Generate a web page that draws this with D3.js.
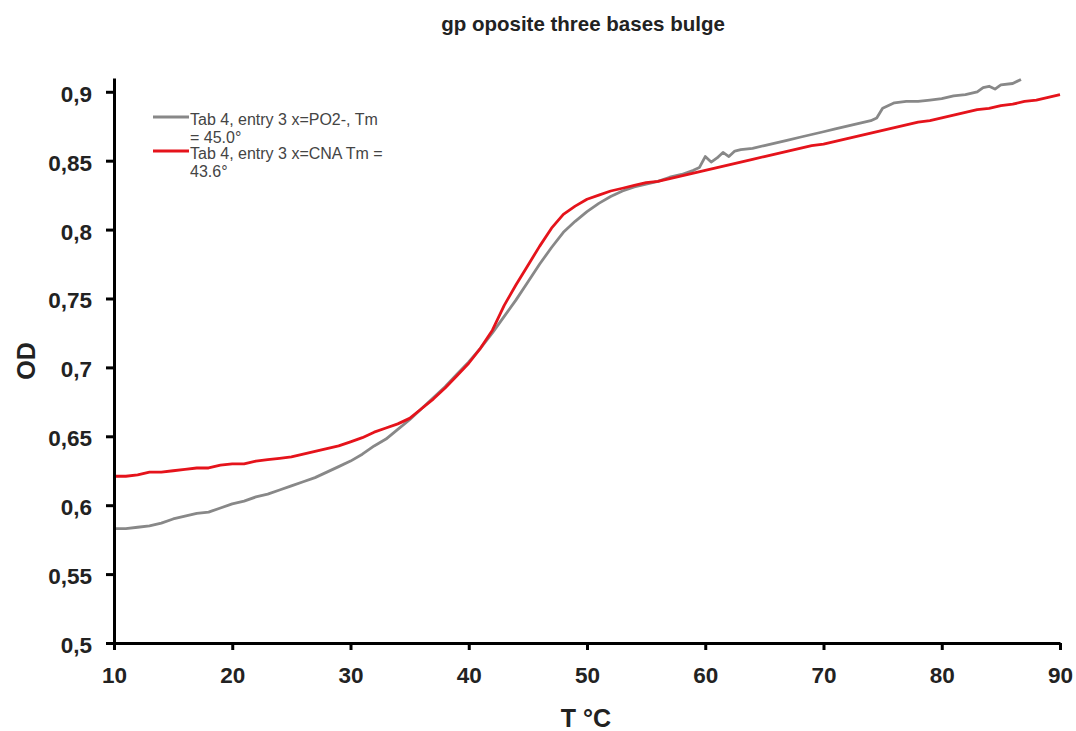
<!DOCTYPE html>
<html>
<head>
<meta charset="utf-8">
<script src="https://cdn.jsdelivr.net/npm/d3@7"></script>
<style>
  body { margin: 0; background: #fff; }
  svg { font-family: "Liberation Sans", Arial, sans-serif; }
</style>
</head>
<body>
<svg id="chart" width="1076" height="731"></svg>
<script>
// data
const title = 'gp oposite three bases bulge'
const xLabel = 'T °C'
const yLabel = 'OD'
const xTicks = [10, 20, 30, 40, 50, 60, 70, 80, 90]
const yTicks = [0.5, 0.55, 0.6, 0.65, 0.7, 0.75, 0.8, 0.85, 0.9]

const grayT = [10, 11, 12, 13, 14, 15, 16, 17, 18, 19, 20, 21, 22, 23, 24, 25, 26, 27, 28, 29, 30,
    31, 32, 33, 34, 35, 36, 37, 38, 39, 40, 41, 42, 43, 44, 45, 46, 47, 48, 49, 50,
    51, 52, 53, 54, 55, 56, 57, 58, 59, 59.5, 60, 60.5, 61, 61.5, 62, 62.5, 63, 64, 65, 66, 67, 68, 69, 70,
    71, 72, 73, 74, 74.5, 75, 76, 77, 78, 79, 80, 81, 82, 83, 83.5, 84, 84.5, 85, 86, 86.7]
const grayOD = [0.583, 0.583, 0.584, 0.585, 0.587, 0.590, 0.592, 0.594, 0.595, 0.598, 0.601, 0.603, 0.606, 0.608, 0.611, 0.614, 0.617, 0.620, 0.624, 0.628, 0.632,
    0.637, 0.643, 0.648, 0.655, 0.662, 0.670, 0.678, 0.686, 0.695, 0.704, 0.714, 0.725, 0.737, 0.749, 0.762, 0.775, 0.787, 0.798, 0.806, 0.813,
    0.819, 0.824, 0.828, 0.831, 0.833, 0.835, 0.838, 0.840, 0.843, 0.845, 0.853, 0.849, 0.852, 0.856, 0.853, 0.857, 0.858, 0.859, 0.861, 0.863, 0.865, 0.867, 0.869, 0.871,
    0.873, 0.875, 0.877, 0.879, 0.881, 0.888, 0.892, 0.893, 0.893, 0.894, 0.895, 0.897, 0.898, 0.900, 0.903, 0.904, 0.902, 0.905, 0.906, 0.909]

const redT = d3.range(10, 91)
const redOD = [0.621, 0.621, 0.622, 0.624, 0.624, 0.625, 0.626, 0.627, 0.627, 0.629, 0.630, 0.630, 0.632, 0.633, 0.634, 0.635, 0.637, 0.639, 0.641, 0.643, 0.646,
    0.649, 0.653, 0.656, 0.659, 0.663, 0.670, 0.677, 0.685, 0.694, 0.703, 0.714, 0.727, 0.745, 0.760, 0.774, 0.788, 0.801, 0.811, 0.817, 0.822,
    0.825, 0.828, 0.830, 0.832, 0.834, 0.835, 0.837, 0.839, 0.841, 0.843, 0.845, 0.847, 0.849, 0.851, 0.853, 0.855, 0.857, 0.859, 0.861, 0.862,
    0.864, 0.866, 0.868, 0.870, 0.872, 0.874, 0.876, 0.878, 0.879, 0.881, 0.883, 0.885, 0.887, 0.888, 0.890, 0.891, 0.893, 0.894, 0.896, 0.898]

const seriesNames = [['Tab 4, entry 3 x=PO2-, Tm', '= 45.0°'], ['Tab 4, entry 3 x=CNA Tm =', '43.6°']]
const seriesColors = ['#888888', '#e5131b']

const svg = d3.select('#chart')
const x = d3.scaleLinear().domain([10, 90]).range([114, 1060])
const y = d3.scaleLinear().domain([0.5, 0.91]).range([643, 78])
const fmt = d => String(d).replace('.', ',')

// title
svg.append('text')
    .attr('x', 583).attr('y', 31)
    .attr('text-anchor', 'middle')
    .attr('font-size', 20.5).attr('font-weight', 'bold').attr('fill', '#222')
    .text(title)

// lines
const line = d3.line().x(d => x(d[0])).y(d => y(d[1]))
const series = [d3.zip(grayT, grayOD), d3.zip(redT, redOD)]
svg.append('g').selectAll('path').data(series).join('path')
    .attr('d', line)
    .attr('fill', 'none')
    .attr('stroke', (d, i) => seriesColors[i])
    .attr('stroke-width', 2.8)
    .attr('stroke-linejoin', 'round')

// axes
const xAxis = svg.append('g')
    .attr('transform', `translate(0, ${y(0.5)})`)
    .call(d3.axisBottom(x).tickValues(xTicks).tickSize(7).tickPadding(17).tickSizeOuter(0))
const yAxis = svg.append('g')
    .attr('transform', `translate(${x(10)}, 0)`)
    .call(d3.axisLeft(y).tickValues(yTicks).tickFormat(fmt).tickSize(8).tickPadding(14).tickSizeOuter(0))

for (const ax of [xAxis, yAxis]) {
    ax.select('.domain').attr('stroke', '#000').attr('stroke-width', 3)
    ax.selectAll('.tick line').attr('stroke', '#000').attr('stroke-width', 3)
    ax.selectAll('.tick text')
        .attr('font-family', '"Liberation Sans", Arial, sans-serif')
        .attr('font-size', 22.5).attr('font-weight', 'bold').attr('fill', '#222')
}
yAxis.selectAll('.tick text').attr('dy', '0.42em')

// axis labels
svg.append('text')
    .attr('x', 586).attr('y', 727)
    .attr('text-anchor', 'middle')
    .attr('font-size', 25).attr('font-weight', 'bold').attr('fill', '#222')
    .text(xLabel)
svg.append('text')
    .attr('transform', 'translate(35, 361) rotate(-90)')
    .attr('text-anchor', 'middle')
    .attr('font-size', 25).attr('font-weight', 'bold').attr('fill', '#222')
    .text(yLabel)

// legend
const legend = svg.append('g').selectAll('g').data(seriesNames).join('g')
    .attr('transform', (d, i) => `translate(153, ${117 + i * 34})`)
legend.append('line')
    .attr('x1', 0).attr('x2', 36).attr('y1', 0).attr('y2', 0)
    .attr('stroke', (d, i) => seriesColors[i]).attr('stroke-width', 2.8)
legend.each(function (d) {
    const t = d3.select(this).append('text')
        .attr('x', 37).attr('y', 8)
        .attr('font-size', 16).attr('fill', '#444')
    t.selectAll('tspan').data(d).join('tspan')
        .attr('x', 37).attr('dy', (s, j) => j == 0 ? 0 : 18)
        .text(s => s)
})
</script>
</body>
</html>
